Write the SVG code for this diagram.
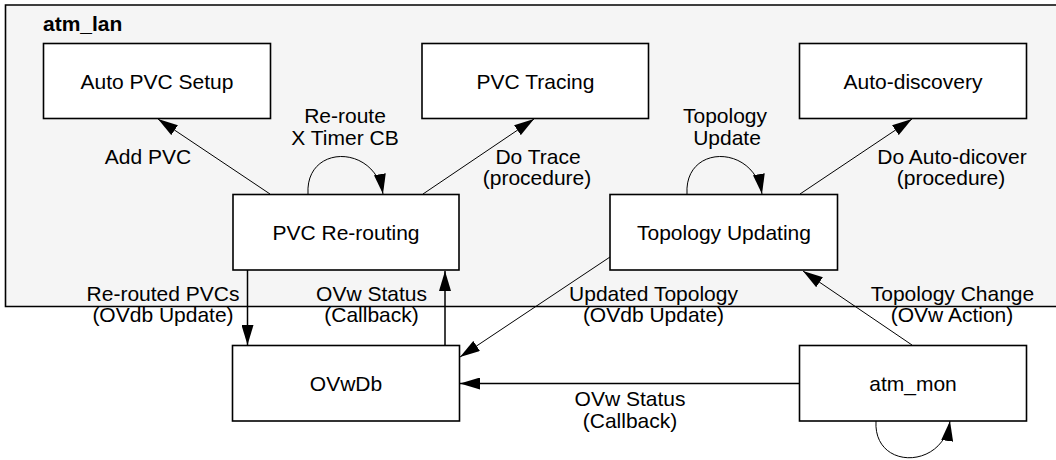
<svg xmlns="http://www.w3.org/2000/svg" width="1056" height="460" viewBox="0 0 1056 460">
<style>
text{font-family:"Liberation Sans",Arial,sans-serif;font-size:21px;fill:#000;text-anchor:middle}
.box{fill:#fff;stroke:#000;stroke-width:1.6}
.c{fill:none;stroke:#000;stroke-width:1}
.cs{fill:none;stroke:#000;stroke-width:1.5}
</style>
<defs>
<marker id="ah" viewBox="0 0 20 12" markerWidth="20" markerHeight="12" refX="20" refY="6" orient="auto" markerUnits="userSpaceOnUse">
<path d="M0,0 L20,6 L0,12 z" fill="#000"/>
</marker>
</defs>
<rect width="1056" height="460" fill="#fff"/>
<g id="atm_lan">
<path d="M1060,5 H5.5 V306.5 H1060" fill="#f5f5f5" stroke="#000" stroke-width="1.6"/>
<text x="43" y="31" style="text-anchor:start;font-weight:bold">atm_lan</text>
</g>
<g id="connectors">
<line class="c" x1="270" y1="194" x2="158" y2="119" marker-end="url(#ah)"/>
<line class="c" x1="423" y1="194" x2="534" y2="119" marker-end="url(#ah)"/>
<path class="c" d="M308,194 C305,144 375,144 383,194" marker-end="url(#ah)"/>
<path class="c" d="M687,194 C684,144 754,144 762,194" marker-end="url(#ah)"/>
<line class="c" x1="800" y1="194" x2="912" y2="119" marker-end="url(#ah)"/>
<line class="cs" x1="247.5" y1="270" x2="247.5" y2="345" marker-end="url(#ah)"/>
<line class="cs" x1="445" y1="345" x2="445" y2="271" marker-end="url(#ah)"/>
<line class="c" x1="610" y1="257" x2="460" y2="357" marker-end="url(#ah)"/>
<line class="c" x1="912" y1="345" x2="803" y2="271" marker-end="url(#ah)"/>
<line class="cs" x1="799" y1="383.5" x2="460" y2="383.5" marker-end="url(#ah)"/>
<path class="c" d="M876,421 C873,470 943,470 950,421" marker-end="url(#ah)"/>
<text x="148" y="164">Add PVC</text>
<text x="345" y="123">Re-route</text>
<text x="345" y="145">X Timer CB</text>
<text x="538" y="164">Do Trace</text>
<text x="537" y="185">(procedure)</text>
<text x="725" y="123">Topology</text>
<text x="727" y="145">Update</text>
<text x="952" y="164">Do Auto-dicover</text>
<text x="951" y="185">(procedure)</text>
<text x="163" y="301">Re-routed PVCs</text>
<text x="163" y="322">(OVdb Update)</text>
<text x="371.5" y="301">OVw Status</text>
<text x="371.5" y="322">(Callback)</text>
<text x="653.5" y="301">Updated Topology</text>
<text x="653.5" y="322">(OVdb Update)</text>
<text x="952.5" y="301">Topology Change</text>
<text x="952" y="322">(OVw Action)</text>
<text x="630" y="406">OVw Status</text>
<text x="630" y="428">(Callback)</text>
</g>
<g id="auto_pvc_setup"><rect class="box" x="43.5" y="43.5" width="227" height="75"/><text x="157" y="89">Auto PVC Setup</text></g>
<g id="pvc_tracing"><rect class="box" x="422" y="43.5" width="226.5" height="75"/><text x="535.5" y="89">PVC Tracing</text></g>
<g id="auto_discovery"><rect class="box" x="799.5" y="43.5" width="227" height="75"/><text x="913" y="89">Auto-discovery</text></g>
<g id="pvc_rerouting"><rect class="box" x="233" y="194.5" width="226" height="75.5"/><text x="346" y="240">PVC Re-routing</text></g>
<g id="topology_updating"><rect class="box" x="610" y="194.5" width="227.5" height="75.5"/><text x="724" y="240">Topology Updating</text></g>
<g id="ovwdb"><rect class="box" x="232.5" y="345.5" width="227" height="75.5"/><text x="346" y="391">OVwDb</text></g>
<g id="atm_mon"><rect class="box" x="799.5" y="345.5" width="227" height="75.5"/><text x="913" y="391">atm_mon</text></g>
</svg>
